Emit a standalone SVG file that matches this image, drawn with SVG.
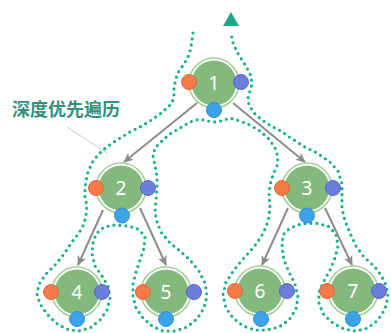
<svg xmlns="http://www.w3.org/2000/svg" width="391" height="333" viewBox="0 0 391 333">
<style>
.ring{fill:#ffffff;stroke:#a3d09a;stroke-width:1.6}
.core{fill:#84b97e}
.num{font-family:"Noto Sans","DejaVu Sans",sans-serif;font-size:19px;fill:#ffffff;text-anchor:middle}
.pre{fill:#f47b47;stroke:#e2663a;stroke-width:1}
.post{fill:#6b7edb;stroke:#5667c7;stroke-width:1}
.in{fill:#3ea2e8;stroke:#318fd4;stroke-width:1}
.edge{stroke:#8c8c8c;stroke-width:2;fill:none;marker-end:url(#arr)}
.trace{fill:none;stroke:#17b08a;stroke-width:3.2;stroke-linecap:round;stroke-linejoin:round;stroke-dasharray:0 6}
.label{font-family:"Noto Sans CJK SC","Noto Sans",sans-serif;font-size:18px;font-weight:bold;fill:#33917e}
</style>
<defs>
<marker id="arr" markerWidth="10" markerHeight="10" refX="9" refY="5" orient="auto" markerUnits="userSpaceOnUse">
<path d="M0,0.5 L10,5 L0,9.5 L2.5,5 z" fill="#8c8c8c"/>
</marker>
</defs>
<g id="connectors">
<path class="trace" d="M193,33 L191,47 189,55 184,64 179,71 176,78 174,88 174,96 172,103 167,108 160,114 150,121 140,127 130,132 120,138 111,144 103,150 97,156 92,163 88,172 86,181 85,190 85,198 87,206 86,215 84,224 79,233 72,242 64,254 55,265 46,274 39,284 37,294 40,304 47,314 56,323 66,329 78,331 90,328 100,320 107,310 110,298 108,286 102,276 95,266 92,254 93,243 96,234 104,227 115,225 128,226 138,229 145,236 144,248 140,260 136,272 133,284 133,296 136,308 143,318 152,326 163,331 175,331 187,327 197,319 204,308 207,296 205,283 199,271 190,260 180,251 169,242 161,232 157,222 155,212 156,200 157,188 157,176 155,165 153,156 155,148 162,141 170,134 180,128 190,122 200,119 207,121 214,122 221,121 230,118 240,121 250,125 260,131 269,139 275,148 278,157 277,166 273,175 270,185 269,195 270,206 269,217 266,227 261,237 253,248 243,259 234,270 226,282 223,295 226,308 233,318 243,326 255,330 267,330 279,327 289,320 296,309 298,297 295,284 289,272 284,260 282,247 283,235 290,228 301,224 315,223 328,226 336,234 338,246 335,258 330,270 324,281 319,292 319,304 324,315 333,323 344,329 356,331 368,328 378,320 385,309 388,297 386,285 381,275 374,266 364,257 356,246 350,233 345,221 342,208 342,196 342,184 338,171 330,162 317,153 303,146 291,138 281,131 271,126 262,120 254,113 249,105 248,98 250,91 252,84 251,76 247,68 242,60 237,52 233,43 231,33"/>
<path d="M231,12 L239,26 L223,26 z" fill="#1aa886"/>
<line class="edge" x1="197" y1="103" x2="124" y2="162"/>
<line class="edge" x1="233" y1="103" x2="305" y2="162"/>
<line class="edge" x1="103" y1="210" x2="78" y2="265"/>
<line class="edge" x1="140" y1="208" x2="166" y2="265"/>
<line class="edge" x1="288" y1="208" x2="262" y2="265"/>
<line class="edge" x1="325" y1="208" x2="352" y2="265"/>
<line x1="67" y1="127" x2="107" y2="153" stroke="#c8c8c8" stroke-width="1"/>
</g>
<text class="label" x="12" y="116">深度优先遍历</text>
<g id="node-1">
<circle class="ring" cx="214" cy="83" r="25"/><circle class="core" cx="214" cy="83" r="22.5"/>
<text class="num" x="214" y="90">1</text>
<circle class="pre" cx="189" cy="82" r="7.5"/><circle class="post" cx="241" cy="82" r="7.5"/><circle class="in" cx="214" cy="110" r="7.5"/>
</g>
<g id="node-2">
<circle class="ring" cx="121" cy="188" r="25"/><circle class="core" cx="121" cy="188" r="22.5"/>
<text class="num" x="121" y="195">2</text>
<circle class="pre" cx="96" cy="188" r="7.5"/><circle class="post" cx="148" cy="188" r="7.5"/><circle class="in" cx="122" cy="215.5" r="7.5"/>
</g>
<g id="node-3">
<circle class="ring" cx="307" cy="188" r="25"/><circle class="core" cx="307" cy="188" r="22.5"/>
<text class="num" x="307" y="195">3</text>
<circle class="pre" cx="282" cy="188" r="7.5"/><circle class="post" cx="333" cy="188" r="7.5"/><circle class="in" cx="307" cy="215.5" r="7.5"/>
</g>
<g id="node-4">
<circle class="ring" cx="77" cy="292" r="25"/><circle class="core" cx="77" cy="292" r="22.5"/>
<text class="num" x="77" y="299">4</text>
<circle class="pre" cx="51" cy="292" r="7.5"/><circle class="post" cx="102" cy="292" r="7.5"/><circle class="in" cx="77" cy="319" r="7.5"/>
</g>
<g id="node-5">
<circle class="ring" cx="166" cy="292" r="25"/><circle class="core" cx="166" cy="292" r="22.5"/>
<text class="num" x="166" y="299">5</text>
<circle class="pre" cx="143" cy="292" r="7.5"/><circle class="post" cx="194" cy="292" r="7.5"/><circle class="in" cx="166" cy="319" r="7.5"/>
</g>
<g id="node-6">
<circle class="ring" cx="260" cy="291" r="25"/><circle class="core" cx="260" cy="291" r="22.5"/>
<text class="num" x="260" y="298">6</text>
<circle class="pre" cx="235" cy="291" r="7.5"/><circle class="post" cx="287" cy="291" r="7.5"/><circle class="in" cx="261" cy="319" r="7.5"/>
</g>
<g id="node-7">
<circle class="ring" cx="353" cy="291" r="25"/><circle class="core" cx="353" cy="291" r="22.5"/>
<text class="num" x="353" y="298">7</text>
<circle class="pre" cx="327" cy="291" r="7.5"/><circle class="post" cx="379" cy="291" r="7.5"/><circle class="in" cx="353" cy="319" r="7.5"/>
</g>
</svg>
